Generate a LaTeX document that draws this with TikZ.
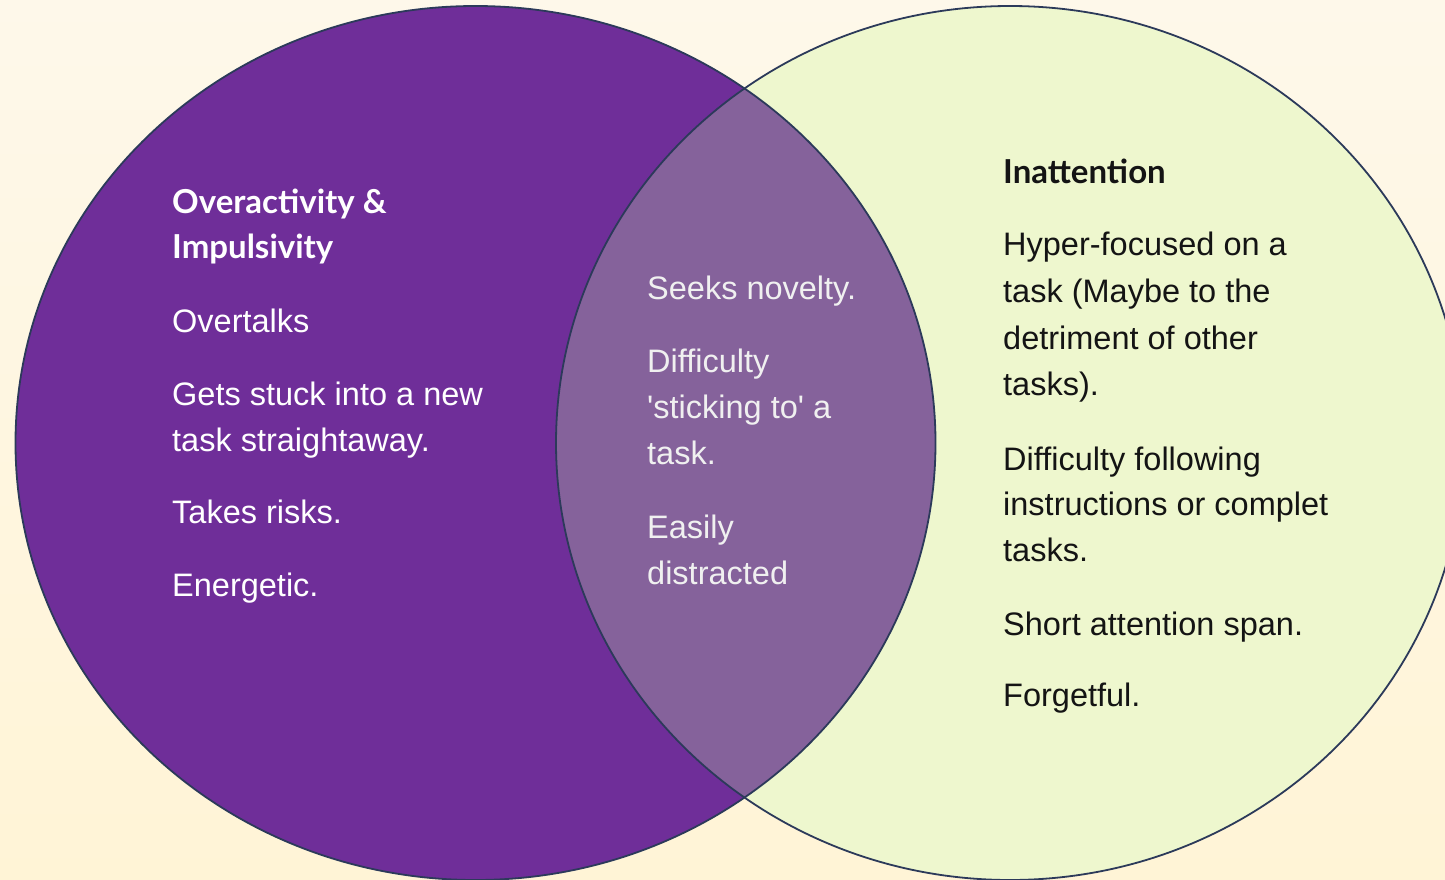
\documentclass[tikz,border=0pt]{standalone}
\usepackage{fontspec}
\setmainfont{Liberation Sans}
\newfontfamily\headfont{Lato}
\definecolor{bgtop}{RGB}{254,248,234}
\definecolor{bgbot}{RGB}{255,244,214}
\definecolor{vpurple}{RGB}{111,46,153}
\definecolor{vlens}{RGB}{133,98,155}
\definecolor{vgreen}{RGB}{238,247,206}
\definecolor{vline}{RGB}{44,58,90}
\definecolor{vtext}{RGB}{20,20,20}
\tikzset{
  bodytxt/.style={anchor=base west, inner sep=0pt, font=\fontsize{32.5}{40}\selectfont},
  headtxt/.style={anchor=base west, inner sep=0pt, font=\fontsize{33}{40}\selectfont\headfont\bfseries},
  lefttxt/.style={text=white},
  midtxt/.style={text=white!94!black},
  righttxt/.style={text=vtext},
  outline/.style={draw=vline, line width=1.8pt}
}
\begin{document}
\begin{tikzpicture}[x=1pt,y=-1pt]
\useasboundingbox (0,0) rectangle (1445,880);
\clip (0,0) rectangle (1445,880);
\shade[top color=bgtop, bottom color=bgbot] (0,0) rectangle (1445,880);
% ellipses
\coordinate (cl) at (475.5,443);
\coordinate (cr) at (1010,443);
\fill[vpurple] (cl) ellipse [x radius=460pt, y radius=437pt];
\fill[vgreen] (cr) ellipse [x radius=454pt, y radius=437pt];
\begin{scope}
  \clip (cl) ellipse [x radius=460pt, y radius=437pt];
  \fill[vlens] (cr) ellipse [x radius=454pt, y radius=437pt];
\end{scope}
\draw[outline] (cl) ellipse [x radius=460pt, y radius=437pt];
\draw[outline] (cr) ellipse [x radius=454pt, y radius=437pt];
% left texts
\node[headtxt, lefttxt] (l1) at (172,213) {Overactivity \&};
\node[headtxt, lefttxt] (l2) at (172,258) {Impulsivity};
\node[bodytxt, lefttxt] (l3) at (172,332) {Overtalks};
\node[bodytxt, lefttxt] (l4) at (172,405) {Gets stuck into a new};
\node[bodytxt, lefttxt] (l5) at (172,451) {task straightaway.};
\node[bodytxt, lefttxt] (l6) at (172,523) {Takes risks.};
\node[bodytxt, lefttxt] (l7) at (172,596) {Energetic.};
% middle texts
\node[bodytxt, midtxt] (m1) at (647,299) {Seeks novelty.};
\node[bodytxt, midtxt] (m2) at (647,372) {Difficulty};
\node[bodytxt, midtxt] (m3) at (647,418) {\textquotesingle sticking to\textquotesingle{} a};
\node[bodytxt, midtxt] (m4) at (647,464) {task.};
\node[bodytxt, midtxt] (m5) at (647,538) {Easily};
\node[bodytxt, midtxt] (m6) at (647,584) {distracted};
% right texts
\node[headtxt, righttxt] (r1) at (1003,183) {Inattention};
\node[bodytxt, righttxt] (r2) at (1003,255) {Hyper-focused on a};
\node[bodytxt, righttxt] (r3) at (1003,302) {task (Maybe to the};
\node[bodytxt, righttxt] (r4) at (1003,349) {detriment of other};
\node[bodytxt, righttxt] (r5) at (1003,395) {tasks).};
\node[bodytxt, righttxt] (r6) at (1003,470) {Difficulty following};
\node[bodytxt, righttxt] (r7) at (1003,515) {instructions or complet};
\node[bodytxt, righttxt] (r8) at (1003,561) {tasks.};
\node[bodytxt, righttxt] (r9) at (1003,635) {Short attention span.};
\node[bodytxt, righttxt] (r10) at (1003,706) {Forgetful.};
\end{tikzpicture}
\end{document}
